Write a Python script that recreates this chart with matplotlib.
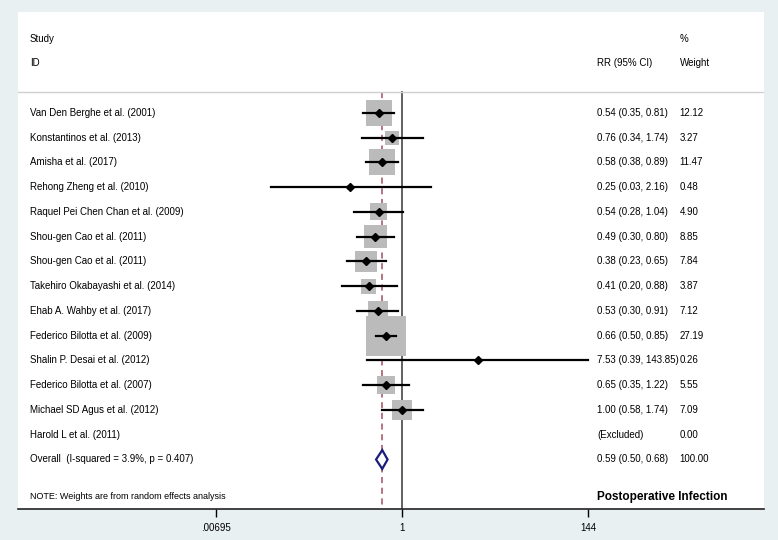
import numpy as np
import matplotlib
matplotlib.use("Agg")
import matplotlib.pyplot as plt
from matplotlib.transforms import blended_transform_factory

plt.rcParams["font.family"] = ["Liberation Sans", "DejaVu Sans"]

studies = ["Van Den Berghe et al. (2001)", "Konstantinos et al. (2013)", "Amisha et al. (2017)",
           "Rehong Zheng et al. (2010)", "Raquel Pei Chen Chan et al. (2009)", "Shou-gen Cao et al. (2011)",
           "Shou-gen Cao et al. (2011)", "Takehiro Okabayashi et al. (2014)", "Ehab A. Wahby et al. (2017)",
           "Federico Bilotta et al. (2009)", "Shalin P. Desai et al. (2012)", "Federico Bilotta et al. (2007)",
           "Michael SD Agus et al. (2012)", "Harold L et al. (2011)"]
rr = [0.54, 0.76, 0.58, 0.25, 0.54, 0.49, 0.38, 0.41, 0.53, 0.66, 7.53, 0.65, 1.00, np.nan]
lo = [0.35, 0.34, 0.38, 0.03, 0.28, 0.30, 0.23, 0.20, 0.30, 0.50, 0.39, 0.35, 0.58, np.nan]
hi = [0.81, 1.74, 0.89, 2.16, 1.04, 0.80, 0.65, 0.88, 0.91, 0.85, 143.85, 1.22, 1.74, np.nan]
weights = [12.12, 3.27, 11.47, 0.48, 4.90, 8.85, 7.84, 3.87, 7.12, 27.19, 0.26, 5.55, 7.09, 0.00]
overall = (0.59, 0.50, 0.68)
overall_label = "Overall  (I-squared = 3.9%, p = 0.407)"
xticks = [0.00695, 1, 144]
xticklabels = [".00695", "1", "144"]

BG = "#E8F0F2"
W, H = 778, 540
fig = plt.figure(figsize=(W / 100, H / 100), dpi=100, facecolor=BG)
ax = fig.add_axes([18 / W, (H - 509) / H, 746 / W, (509 - 12) / H])
ax.set_facecolor("white")

ppl = 37.43  # px per ln unit
ax.set_xscale("log")
ax.set_xlim(np.exp((18 - 402) / ppl), np.exp((764 - 402) / ppl))
ax.set_ylim(16.0, -4.08)

for s in ["top", "right", "left"]:
    ax.spines[s].set_visible(False)
ax.spines["bottom"].set_color("#222222")
ax.spines["bottom"].set_linewidth(1.2)
ax.set_yticks([])
ax.set_xticks(xticks)
ax.set_xticklabels(xticklabels, fontsize=7)
ax.minorticks_off()
ax.tick_params(axis="x", length=6, width=1, pad=4)

n = len(studies)
ys = np.arange(n)

# reference lines
ax.plot([1, 1], [-0.85, 16.0], color="#555555", lw=1.3, zorder=1)
ax.plot([overall[0], overall[0]], [-0.85, 16.0], color="#A05060", lw=1.1,
        ls=(0, (4, 3)), zorder=1)
ax.axhline(-0.85, color="#D0D0D0", lw=1, zorder=1)

# boxes + CIs
for i in range(n):
    if np.isnan(rr[i]):
        continue
    side_px = 7.67 * np.sqrt(weights[i])
    ax.scatter([rr[i]], [ys[i]], marker="s", s=(side_px * 0.72) ** 2,
               color="#BBBBBB", edgecolors="none", zorder=2)
    ax.plot([lo[i], hi[i]], [ys[i], ys[i]], color="black", lw=1.6, zorder=3)
    ax.plot([rr[i]], [ys[i]], marker="D", ms=3.8, color="black", zorder=4)

# overall diamond
yo = n
ax.fill([overall[1], overall[0], overall[2], overall[0]], [yo, yo - 0.38, yo, yo + 0.38],
        facecolor="white", edgecolor="#1C1C7A", lw=1.6, zorder=4)

tr = blended_transform_factory(ax.transAxes, ax.transData)
xn, xr, xw = 0.016, 0.776, 0.887
fs = 7
ax.text(xn, -3, "Study", transform=tr, fontsize=fs, va="center")
ax.text(xn, -2, "ID", transform=tr, fontsize=fs, va="center")
ax.text(xr, -2, "RR (95% CI)", transform=tr, fontsize=fs, va="center")
ax.text(xw, -3, "%", transform=tr, fontsize=fs, va="center")
ax.text(xw, -2, "Weight", transform=tr, fontsize=fs, va="center")

for i in range(n):
    ax.text(xn, ys[i], studies[i], transform=tr, fontsize=fs, va="center")
    if np.isnan(rr[i]):
        ci = "(Excluded)"
    else:
        ci = f"{rr[i]:.2f} ({lo[i]:.2f}, {hi[i]:.2f})"
    ax.text(xr, ys[i], ci, transform=tr, fontsize=fs, va="center")
    ax.text(xw, ys[i], f"{weights[i]:.2f}", transform=tr, fontsize=fs, va="center")

ax.text(xn, yo, overall_label, transform=tr, fontsize=fs, va="center")
ax.text(xr, yo, f"{overall[0]:.2f} ({overall[1]:.2f}, {overall[2]:.2f})", transform=tr, fontsize=fs, va="center")
ax.text(xw, yo, "100.00", transform=tr, fontsize=fs, va="center")

ax.text(xn, 15.5, "NOTE: Weights are from random effects analysis", transform=tr, fontsize=6.5, va="center")
ax.text(xr, 15.5, "Postoperative Infection", transform=tr, fontsize=8.5, fontweight="bold", va="center")

fig.savefig("out.png", dpi=100, facecolor=BG)
